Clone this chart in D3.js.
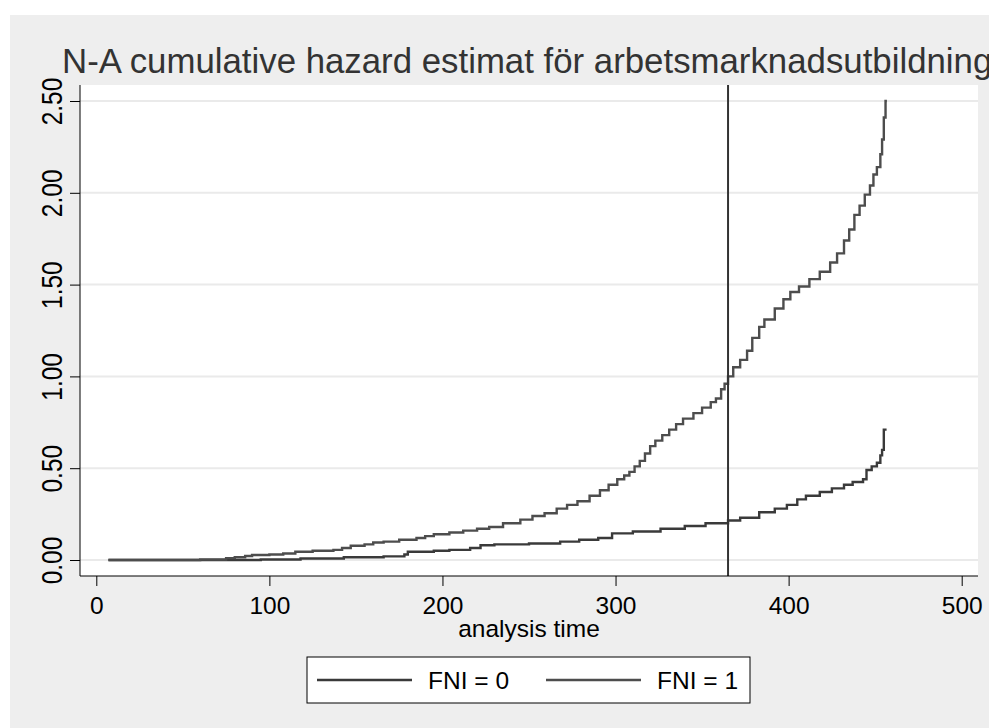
<!DOCTYPE html>
<html>
<head>
<meta charset="utf-8">
<script src="https://cdn.jsdelivr.net/npm/d3@7"></script>
<style>
  html, body { margin: 0; padding: 0; background: #ffffff; }
  svg { display: block; font-family: "Liberation Sans", Arial, sans-serif; }
</style>
</head>
<body>
<svg id="chart" width="989" height="728"></svg>
<script>
"use strict";

// Nelson-Aalen estimates (time, cumulative hazard)
const timesFni0 = [7, 95, 118, 143, 166, 178, 180, 195, 204, 216, 222, 230, 250, 268, 279, 290, 298, 310, 326, 340, 352, 365, 372, 383, 392, 399, 405, 410, 418, 425, 432, 437, 443, 445, 448, 451, 453, 454, 455, 456.6];
const hazardFni0 = [0, 0.003, 0.008, 0.015, 0.02, 0.03, 0.045, 0.05, 0.055, 0.065, 0.08, 0.085, 0.09, 0.10, 0.11, 0.12, 0.145, 0.155, 0.17, 0.185, 0.20, 0.215, 0.23, 0.26, 0.28, 0.30, 0.33, 0.35, 0.37, 0.39, 0.41, 0.425, 0.44, 0.49, 0.51, 0.53, 0.57, 0.60, 0.71, 0.71];

const timesFni1 = [7, 60, 75, 80, 86, 90, 100, 108, 115, 125, 137, 142, 147, 155, 160, 166, 175, 185, 190, 195, 204, 212, 220, 227, 235, 245, 252, 259, 266, 272, 278, 285, 291, 296, 301, 305, 308, 311, 314, 317, 320, 323, 327, 331, 335, 339, 345, 350, 355, 358, 361, 363, 365, 368, 372, 376, 379, 383, 386, 392, 397, 401, 406, 412, 418, 424, 428, 432, 435, 438, 441, 444, 447, 449, 451, 453, 454, 455, 456, 456.8];
const hazardFni1 = [0, 0.003, 0.01, 0.015, 0.022, 0.027, 0.03, 0.035, 0.045, 0.05, 0.055, 0.065, 0.078, 0.085, 0.095, 0.10, 0.11, 0.12, 0.13, 0.14, 0.15, 0.16, 0.17, 0.18, 0.20, 0.22, 0.24, 0.255, 0.28, 0.30, 0.32, 0.35, 0.38, 0.41, 0.44, 0.46, 0.48, 0.51, 0.54, 0.58, 0.62, 0.65, 0.68, 0.71, 0.74, 0.77, 0.80, 0.83, 0.86, 0.88, 0.93, 0.96, 1.00, 1.05, 1.09, 1.14, 1.21, 1.27, 1.31, 1.37, 1.42, 1.46, 1.49, 1.53, 1.57, 1.62, 1.67, 1.74, 1.80, 1.88, 1.93, 1.99, 2.04, 2.10, 2.14, 2.21, 2.29, 2.41, 2.50, 2.50];

const xTicks = [0, 100, 200, 300, 400, 500];
const yTicks = [0, 0.5, 1, 1.5, 2, 2.5];
const refTime = 365;
const legendLabels = ["FNI = 0", "FNI = 1"];
const titleText = "N-A cumulative hazard estimat för arbetsmarknadsutbildning";

(function () {
  let svg = d3.select('#chart');

  // gray graph region
  svg.append('rect')
    .attr('x', 10).attr('y', 15)
    .attr('width', 979).attr('height', 713)
    .attr('fill', '#eeeeee');

  let plotLeft = 80, plotRight = 978, plotTop = 85, plotBottom = 576;

  svg.append('rect')
    .attr('x', plotLeft).attr('y', plotTop)
    .attr('width', plotRight - plotLeft).attr('height', plotBottom - plotTop)
    .attr('fill', '#ffffff');

  let xScale = d3.scaleLinear().domain([0, 500]).range([96.3, 961.7]);
  let yScale = d3.scaleLinear().domain([0, 2.5]).range([560, 101]);

  // horizontal grid
  svg.selectAll('.grid').data(yTicks).enter().append('line')
    .attr('class', 'grid')
    .attr('x1', plotLeft).attr('x2', plotRight)
    .attr('y1', d => yScale(d)).attr('y2', d => yScale(d))
    .attr('stroke', '#eaeaea')
    .attr('stroke-width', 2);

  // curves
  let line = d3.line()
    .x(d => xScale(d[0]))
    .y(d => yScale(d[1]))
    .curve(d3.curveStepAfter);

  let series = [
    { pts: d3.zip(timesFni0, hazardFni0), color: '#3a3a3a' },
    { pts: d3.zip(timesFni1, hazardFni1), color: '#4d4d4d' }
  ];

  svg.selectAll('.curve').data(series).enter().append('path')
    .attr('class', 'curve')
    .attr('d', d => line(d.pts))
    .attr('fill', 'none')
    .attr('stroke', d => d.color)
    .attr('stroke-width', 2.4);

  // reference line at 365 days
  svg.append('line')
    .attr('x1', xScale(refTime)).attr('x2', xScale(refTime))
    .attr('y1', plotTop).attr('y2', plotBottom)
    .attr('stroke', '#333333')
    .attr('stroke-width', 2);

  // axes
  let xAxis = d3.axisBottom(xScale).tickValues(xTicks).tickSize(10).tickFormat(d3.format('d'));
  let gx = svg.append('g')
    .attr('transform', 'translate(0,' + plotBottom + ')')
    .call(xAxis);
  gx.select('.domain').attr('d', 'M' + plotLeft + ',0H' + plotRight).attr('stroke', '#000');
  gx.selectAll('.tick line').attr('stroke', '#000');
  gx.selectAll('.tick text')
    .attr('y', 38).attr('dy', 0)
    .attr('font-size', '24.5px')
    .attr('font-family', '"Liberation Sans", Arial, sans-serif')
    .attr('fill', '#000');

  let yAxis = d3.axisLeft(yScale).tickValues(yTicks).tickSize(10).tickFormat(d3.format('.2f'));
  let gy = svg.append('g')
    .attr('transform', 'translate(' + plotLeft + ',0)')
    .call(yAxis);
  gy.select('.domain').attr('d', 'M0,' + plotTop + 'V' + plotBottom).attr('stroke', '#000');
  gy.selectAll('.tick line').attr('stroke', '#000');
  gy.selectAll('.tick text')
    .attr('x', null).attr('dy', 0)
    .attr('text-anchor', 'middle')
    .attr('transform', 'translate(-18,0) rotate(-90) scale(1,1.18)')
    .attr('font-size', '24.5px')
    .attr('font-family', '"Liberation Sans", Arial, sans-serif')
    .attr('fill', '#000');

  // axis title
  svg.append('text')
    .attr('x', (plotLeft + plotRight) / 2)
    .attr('y', 637)
    .attr('text-anchor', 'middle')
    .attr('font-size', '24.5px')
    .attr('fill', '#000')
    .text('analysis time');

  // title (runs past the right edge, as in the original)
  svg.append('text')
    .attr('x', 62)
    .attr('y', 73)
    .attr('font-size', '34.8px')
    .attr('fill', '#333333')
    .text(titleText);

  // legend
  let legend = svg.append('g');
  legend.append('rect')
    .attr('x', 307).attr('y', 657)
    .attr('width', 443).attr('height', 46)
    .attr('fill', '#ffffff')
    .attr('stroke', '#000')
    .attr('stroke-width', 1);

  let legendX = [317, 546];
  let items = legend.selectAll('.item').data(legendLabels).enter().append('g')
    .attr('class', 'item')
    .attr('transform', (d, i) => 'translate(' + legendX[i] + ',680)');
  items.append('line')
    .attr('x1', 0).attr('x2', 95)
    .attr('y1', 0).attr('y2', 0)
    .attr('stroke', (d, i) => series[i].color)
    .attr('stroke-width', 2.4);
  items.append('text')
    .attr('x', 111)
    .attr('y', 9)
    .attr('font-size', '24.5px')
    .attr('fill', '#000')
    .text(d => d);
})();
</script>
</body>
</html>
